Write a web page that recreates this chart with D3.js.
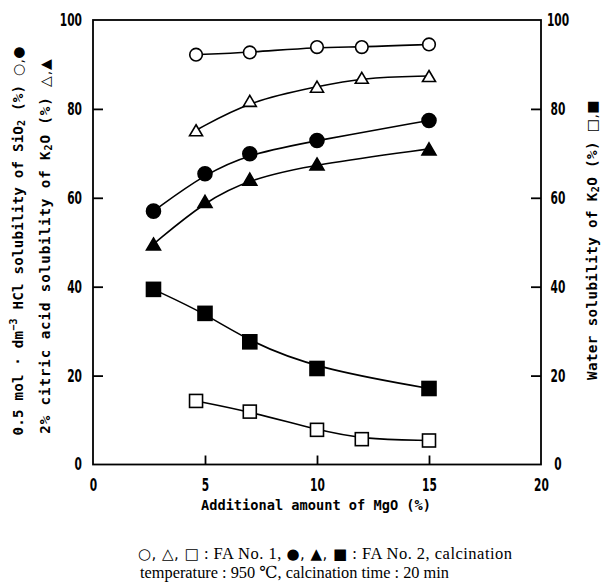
<!DOCTYPE html>
<html><head><meta charset="utf-8">
<script src="https://cdn.jsdelivr.net/npm/d3@7"></script>
<style>
body{margin:0;background:#fff;}
svg{display:block;}
</style></head>
<body>
<script>
// ---- data ----
const xOpenCircle = [4.6, 7.0, 10, 12, 15];
const yOpenCircle = [92.2, 92.7, 93.9, 93.9, 94.5];      // SiO2 HCl solubility, FA No.1
const xFilledCircle = [2.7, 5.0, 7.0, 10, 15];
const yFilledCircle = [57.0, 65.4, 69.9, 72.9, 77.4];     // SiO2 HCl solubility, FA No.2
const xOpenTriangle = [4.6, 7.0, 10, 12, 15];
const yOpenTriangle = [75.2, 81.8, 85.0, 87.0, 87.4];     // K2O citric solubility, FA No.1
const xFilledTriangle = [2.7, 5.0, 7.0, 10, 15];
const yFilledTriangle = [49.6, 59.2, 64.2, 67.6, 71.0];   // K2O citric solubility, FA No.2
const xOpenSquare = [4.6, 7.0, 10, 12, 15];
const yOpenSquare = [14.3, 11.9, 7.8, 5.7, 5.4];          // K2O water solubility, FA No.1
const xFilledSquare = [2.7, 5.0, 7.0, 10, 15];
const yFilledSquare = [39.4, 34.0, 27.6, 21.6, 17.1];     // K2O water solubility, FA No.2
const xTicks = [0, 5, 10, 15, 20];
const yTicks = [0, 20, 40, 60, 80, 100];

const W = 604, H = 584;
const svg = d3.select("body").append("svg").attr("width", W).attr("height", H);

const x = d3.scaleLinear().domain([0, 20]).range([93, 541]);
const y = d3.scaleLinear().domain([0, 100]).range([464.5, 20]);

const numFont = "'Liberation Sans Narrow','DejaVu Sans Condensed','Arial Narrow',sans-serif";
const monoFont = "'DejaVu Sans Mono','Liberation Mono',monospace";
const symFont = "'DejaVu Sans',sans-serif";

// frame
svg.append("rect").attr("x", x(0)).attr("y", y(100))
  .attr("width", x(20) - x(0)).attr("height", y(0) - y(100))
  .attr("fill", "none").attr("stroke", "#000").attr("stroke-width", 1.8);

function styleAxis(g) {
  g.select(".domain").remove();
  g.selectAll(".tick line").attr("stroke", "#000").attr("stroke-width", 1.8);
  g.selectAll(".tick text")
    .attr("fill", "#000")
    .style("font-family", numFont).style("font-weight", "bold").style("font-size", "17px")
    .attr("textLength", function(){ return this.textContent.length * 7.4; })
    .attr("lengthAdjust", "spacingAndGlyphs");
}

const yl = svg.append("g").attr("transform", `translate(${x(0)},0)`)
  .call(d3.axisLeft(y).tickValues(yTicks).tickSize(-10).tickPadding(11).tickFormat(d3.format("d")));
styleAxis(yl);
yl.selectAll(".tick").filter(d => d === 0 || d === 100).select("line").remove();

const yr = svg.append("g").attr("transform", `translate(${x(20)},0)`)
  .call(d3.axisRight(y).tickValues(yTicks).tickSize(-10).tickPadding(17).tickFormat(d3.format("d")));
styleAxis(yr);
yr.selectAll(".tick text").attr("text-anchor", "middle");
yr.selectAll(".tick").filter(d => d === 0 || d === 100).select("line").remove();

const xb = svg.append("g").attr("transform", `translate(0,${y(0)})`)
  .call(d3.axisBottom(x).tickValues(xTicks).tickSize(-9).tickPadding(14).tickFormat(d3.format("d")));
styleAxis(xb);
xb.selectAll(".tick").filter(d => d === 0 || d === 20).select("line").remove();

// curves
const series = [
  {xs: xOpenCircle, ys: yOpenCircle, shape: "circle", filled: false},
  {xs: xFilledCircle, ys: yFilledCircle, shape: "circle", filled: true},
  {xs: xOpenTriangle, ys: yOpenTriangle, shape: "triangle", filled: false},
  {xs: xFilledTriangle, ys: yFilledTriangle, shape: "triangle", filled: true},
  {xs: xOpenSquare, ys: yOpenSquare, shape: "square", filled: false},
  {xs: xFilledSquare, ys: yFilledSquare, shape: "square", filled: true}
];
const line = d3.line().x(d => x(d[0])).y(d => y(d[1])).curve(d3.curveBasis);

series.forEach(s => {
  const pts = s.xs.map((v, i) => [v, s.ys[i]]);
  svg.append("path").datum(pts).attr("d", line)
    .attr("fill", "none").attr("stroke", "#000").attr("stroke-width", 1.6);
});

series.forEach(s => {
  const pts = s.xs.map((v, i) => [v, s.ys[i]]);
  const g = svg.append("g");
  const fill = s.filled ? "#000" : "#fff";
  pts.forEach(p => {
    const cx = x(p[0]), cy = y(p[1]);
    if (s.shape === "circle") {
      g.append("circle").attr("cx", cx).attr("cy", cy).attr("r", s.filled ? 7 : 6.3)
        .attr("fill", fill).attr("stroke", "#000").attr("stroke-width", 1.6);
    } else if (s.shape === "triangle") {
      const w = s.filled ? 14 : 13, h = s.filled ? 12 : 11;
      g.append("path").attr("d", `M${cx},${cy - h/2}L${cx + w/2},${cy + h/2}L${cx - w/2},${cy + h/2}Z`)
        .attr("fill", fill).attr("stroke", "#000").attr("stroke-width", 1.6).attr("stroke-linejoin", "miter");
    } else {
      const a = s.filled ? 14 : 13;
      g.append("rect").attr("x", cx - a/2).attr("y", cy - a/2).attr("width", a).attr("height", a)
        .attr("fill", fill).attr("stroke", "#000").attr("stroke-width", 1.6);
    }
  });
});

// axis titles
function monoText(tx, ty, size, ls) {
  return svg.append("text")
    .attr("transform", `translate(${tx},${ty}) rotate(-90)`)
    .attr("text-anchor", "middle").attr("dominant-baseline", "central")
    .style("font-family", monoFont).style("font-weight", "bold").style("font-size", size + "px")
    .style("letter-spacing", ls + "px")
    .attr("fill", "#000");
}
function addParts(t, parts) {
  parts.forEach(p => {
    const ts = t.append("tspan").text(p.t);
    if (p.sub) ts.style("font-size", "10px").attr("dy", 3);
    if (p.sup) ts.style("font-size", "10px").attr("dy", -5);
    if (p.back) ts.attr("dy", p.back);
    if (p.sym) ts.style("font-family", symFont).style("font-size", "14px").style("font-weight", "normal");
  });
}

const t1 = monoText(18, 241, 14.2, 0.2);
addParts(t1, [
  {t: "0.5 mol · dm"}, {t: "−3", sup: true}, {t: " HCl  solubility of SiO", back: 5},
  {t: "2", sub: true}, {t: " (%) ", back: -3}, {t: "○,●", sym: true}
]);
const t2 = monoText(45, 246, 14.2, 0.9);
addParts(t2, [
  {t: "2% citric acid solubility of K"}, {t: "2", sub: true}, {t: "O (%) ", back: -3}, {t: "△,▲", sym: true}
]);
const t3 = monoText(592, 240, 14.2, 0.4);
addParts(t3, [
  {t: "Water solubility of K"}, {t: "2", sub: true}, {t: "O (%) ", back: -3}, {t: "□,■", sym: true}
]);

svg.append("text").attr("x", 316).attr("y", 510).attr("text-anchor", "middle")
  .style("font-family", monoFont).style("font-weight", "bold").style("font-size", "13.5px")
  .attr("textLength", 230).attr("lengthAdjust", "spacingAndGlyphs")
  .text("Additional amount of MgO (%)");

// caption
const capFont = "'Liberation Serif','DejaVu Serif',serif";
const c1 = svg.append("text").attr("x", 138).attr("y", 559)
  .style("font-family", capFont).style("font-size", "16.5px").attr("fill", "#000")
  .attr("textLength", 374).attr("lengthAdjust", "spacing");
[["○, △, □", true], [" : FA No. 1, ", false], ["●, ▲, ■", true], [" : FA No. 2, calcination", false]]
  .forEach(([t, sym]) => {
    const ts = c1.append("tspan").text(t);
    if (sym) ts.style("font-family", symFont).style("font-size", "15px");
  });
svg.append("text").attr("x", 140).attr("y", 578)
  .style("font-family", capFont).style("font-size", "16.5px").attr("fill", "#000")
  .attr("textLength", 309).attr("lengthAdjust", "spacingAndGlyphs")
  .text("temperature : 950 ℃, calcination time : 20 min");
</script>
</body></html>
